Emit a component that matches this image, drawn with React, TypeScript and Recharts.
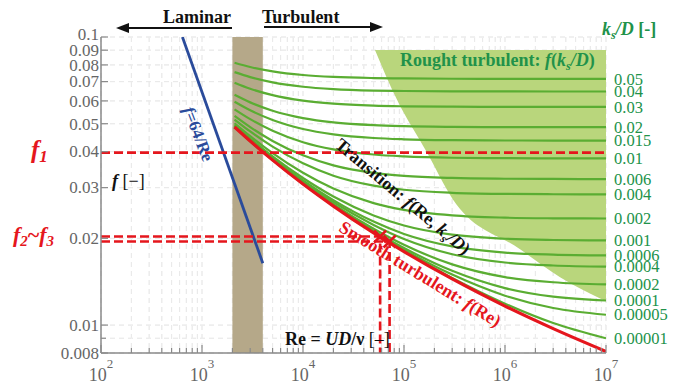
import React from 'react'
import { ComposedChart, Line, Area, Scatter, XAxis, YAxis, CartesianGrid } from 'recharts'

const SERIF = "'Liberation Serif', 'Times New Roman', serif"

// Reynolds numbers where the friction factor curves were read
const RE = [2100, 3000, 5000, 1e4, 2e4, 5e4, 1e5, 3e5, 1e6, 3e6, 1e7]

// smooth turbulent (red)
const SMOOTH_F = [0.0487, 0.04353, 0.03738, 0.03088, 0.02589, 0.02089, 0.01799, 0.01446, 0.01164, 0.00972, 0.0081]

// relative roughness curves (green), top to bottom
const KS_LABELS = ['0.05', '0.04', '0.03', '0.02', '0.015', '0.01', '0.006', '0.004', '0.002', '0.001', '0.0006', '0.0004', '0.0002', '0.0001', '0.00005', '0.00001']
const KS_F = [
  [0.0814, 0.07868, 0.07597, 0.0738, 0.07269, 0.07203, 0.0718, 0.07163, 0.07157, 0.07155, 0.07154],
  [0.0755, 0.07256, 0.06958, 0.06719, 0.06595, 0.06518, 0.06494, 0.06476, 0.06471, 0.06469, 0.06468],
  [0.0694, 0.06614, 0.06281, 0.0601, 0.05868, 0.05778, 0.05748, 0.05728, 0.0572, 0.05718, 0.05717],
  [0.063, 0.0593, 0.05549, 0.0523, 0.05052, 0.04941, 0.04903, 0.04877, 0.04867, 0.04865, 0.04863],
  [0.0596, 0.05567, 0.05152, 0.04794, 0.04593, 0.0446, 0.04415, 0.04384, 0.04373, 0.04371, 0.0437],
  [0.0561, 0.05187, 0.04726, 0.04313, 0.04071, 0.03909, 0.03851, 0.0381, 0.03797, 0.03792, 0.0379],
  [0.0532, 0.04866, 0.04358, 0.03883, 0.03584, 0.03374, 0.03295, 0.03241, 0.03221, 0.03215, 0.03213],
  [0.0517, 0.047, 0.04164, 0.03643, 0.03301, 0.03049, 0.0295, 0.02879, 0.02853, 0.02846, 0.02844],
  [0.0502, 0.04529, 0.03954, 0.0338, 0.02979, 0.02651, 0.0251, 0.02402, 0.0236, 0.02348, 0.02344],
  [0.04945, 0.04441, 0.0385, 0.03239, 0.02794, 0.02402, 0.02217, 0.0206, 0.01994, 0.01974, 0.01967],
  [0.04914, 0.04406, 0.03806, 0.0318, 0.02715, 0.02287, 0.02072, 0.01876, 0.01785, 0.01756, 0.01745],
  [0.049, 0.04386, 0.03784, 0.0315, 0.02674, 0.02226, 0.0199, 0.01762, 0.01649, 0.0161, 0.01596],
  [0.04884, 0.04373, 0.03763, 0.03119, 0.02631, 0.0216, 0.019, 0.01625, 0.01468, 0.01408, 0.01384],
  [0.04877, 0.04362, 0.03751, 0.03103, 0.02611, 0.02124, 0.01852, 0.01543, 0.01344, 0.01255, 0.01217],
  [0.04872, 0.04358, 0.03745, 0.03097, 0.026, 0.0211, 0.01826, 0.01497, 0.01265, 0.01146, 0.01086],
  [0.0487, 0.0435, 0.03741, 0.0309, 0.02591, 0.02094, 0.01806, 0.01457, 0.01187, 0.01017, 0.009],
]

// laminar f = 64/Re (blue)
const LAM_RE = [640, 4000]
const LAM_F = [0.1, 0.0164]

// transition band (brown)
const BAND_RE = [2000, 4000]

// rough turbulent zone (light green), lower boundary
const ROUGH_RE = [51600, 85300, 169000, 305000, 1.41e6, 3.51e6, 1e7]
const ROUGH_LO = [0.0902, 0.0605, 0.0397, 0.0273, 0.01833, 0.01466, 0.0121]
const ROUGH_TOP = 0.0902

// read-off points
const F1 = 0.0397
const F23 = [0.0203, 0.0195]
const F23_RE = [58000, 72000]

const Y_TICKS = [0.008, 0.009, 0.01, 0.02, 0.03, 0.04, 0.05, 0.06, 0.07, 0.08, 0.09, 0.1]
const X_TICKS: number[] = []
for (let d = 2; d < 7; d++) for (let m = 1; m < 10; m++) X_TICKS.push(m * Math.pow(10, d))
X_TICKS.push(1e7)

const END_F = KS_F.map((c) => c[c.length - 1])

const RED = '#e5161d'
const GREEN = '#5aad32'
const LABEL_GREEN = '#21924a'
const BLUE = '#2a4b9b'
const AXIS = '#8a8a8a'

const toSeries = (xs: number[], ys: number[]) => xs.map((re, i) => ({ re, f: ys[i] }))

function XTick(props: any) {
  const { x, y, payload } = props
  const v = payload.value
  const lg = Math.log10(v)
  const major = Math.abs(lg - Math.round(lg)) < 1e-6
  return (
    <g>
      <line x1={x} x2={x} y1={y} y2={y - (major ? 8 : 5)} stroke={AXIS} strokeWidth={1.2} />
      {major && (
        <text x={x} y={y + 28} textAnchor="middle" fill="#666" fontSize={18} fontFamily={SERIF}>
          <tspan>10</tspan>
          <tspan dy={-13} fontSize={13}>{Math.round(lg)}</tspan>
        </text>
      )}
    </g>
  )
}

function YTick(props: any) {
  const { x, y, payload } = props
  const v = payload.value
  const labeled = v !== 0.009
  return (
    <g>
      <line x1={x} x2={x + (labeled ? 7 : 5)} y1={y} y2={y} stroke={AXIS} strokeWidth={1.2} />
      {labeled && (
        <text x={x - 2} y={v === 0.1 ? y - 3 : y} dy="0.34em" textAnchor="end" fill="#666" fontSize={17} fontFamily={SERIF}>
          {String(v)}
        </text>
      )}
    </g>
  )
}

function KsTick(props: any) {
  const { x, y, payload } = props
  const label = KS_LABELS[END_F.indexOf(payload.value)]
  return (
    <text x={x + 8} y={y} dy="0.34em" fill={LABEL_GREEN} fontSize={16.5} fontFamily={SERIF}>
      {label}
    </text>
  )
}

function Cross(props: any) {
  const { cx, cy } = props
  const s = 6
  return (
    <g stroke={RED} strokeWidth={2.6}>
      <line x1={cx - s} y1={cy - s} x2={cx + s} y2={cy + s} />
      <line x1={cx - s} y1={cy + s} x2={cx + s} y2={cy - s} />
    </g>
  )
}

export default function App() {
  const roughData = ROUGH_RE.map((re, i) => ({ re, range: [ROUGH_LO[i], ROUGH_TOP] }))
  const bandData = BAND_RE.map((re) => ({ re, range: [Y_TICKS[0], Y_TICKS[Y_TICKS.length - 1]] }))
  const f1Data = [{ re: X_TICKS[0], f: F1 }, { re: 1e7, f: F1 }]
  const guideData = F23.map((f, i) => [
    { re: X_TICKS[0], f },
    { re: F23_RE[i], f },
    { re: F23_RE[i], f: Y_TICKS[0] },
  ])
  const crossData = toSeries(F23_RE, F23)

  return (
    <div style={{ position: 'absolute', left: 0, top: 0, width: 676, height: 385, background: '#fff', fontFamily: SERIF }}>
      <ComposedChart width={676} height={385} margin={{ top: 37, right: 0, bottom: 0, left: 0 }}>
        <CartesianGrid yAxisId="left" stroke="#d9d9d9" strokeDasharray="5 4" />
        <XAxis
          dataKey="re"
          type="number"
          scale="log"
          domain={[100, 1e7]}
          allowDataOverflow
          ticks={X_TICKS}
          interval={0}
          height={32}
          tickSize={0}
          tickMargin={0}
          tickLine={false}
          tick={<XTick />}
          axisLine={{ stroke: AXIS, strokeWidth: 1.5 }}
        />
        <YAxis
          yAxisId="left"
          type="number"
          scale="log"
          domain={[0.008, 0.1]}
          allowDataOverflow
          ticks={Y_TICKS}
          interval={0}
          width={101}
          tickSize={0}
          tickMargin={0}
          tickLine={false}
          tick={<YTick />}
          axisLine={{ stroke: AXIS, strokeWidth: 1.5 }}
        />
        <YAxis
          yAxisId="right"
          orientation="right"
          type="number"
          scale="log"
          domain={[0.008, 0.1]}
          allowDataOverflow
          ticks={END_F}
          interval={0}
          width={70}
          tickSize={0}
          tickMargin={0}
          tickLine={false}
          axisLine={false}
          tick={<KsTick />}
        />
        <Area
          yAxisId="left"
          data={roughData}
          dataKey="range"
          type="monotone"
          stroke="none"
          fill="#b9d67c"
          fillOpacity={1}
          isAnimationActive={false}
        />
        <Area
          yAxisId="left"
          data={bandData}
          dataKey="range"
          type="linear"
          stroke="none"
          fill="#b5a889"
          fillOpacity={1}
          isAnimationActive={false}
        />
        <CartesianGrid yAxisId="left" stroke="rgba(255,255,255,0.45)" strokeDasharray="5 4" />
        {KS_F.map((vals, k) => (
          <Line
            key={KS_LABELS[k]}
            yAxisId="left"
            data={toSeries(RE, vals)}
            dataKey="f"
            type="monotone"
            stroke={GREEN}
            strokeWidth={2.2}
            dot={false}
            isAnimationActive={false}
          />
        ))}
        <Line
          yAxisId="left"
          data={toSeries(RE, SMOOTH_F)}
          dataKey="f"
          type="monotone"
          stroke={RED}
          strokeWidth={3.2}
          dot={false}
          isAnimationActive={false}
        />
        <Line
          yAxisId="left"
          data={toSeries(LAM_RE, LAM_F)}
          dataKey="f"
          type="linear"
          stroke={BLUE}
          strokeWidth={2.8}
          dot={false}
          isAnimationActive={false}
        />
        <Line
          yAxisId="left"
          data={f1Data}
          dataKey="f"
          type="linear"
          stroke={RED}
          strokeWidth={2.6}
          strokeDasharray="9 4"
          dot={false}
          isAnimationActive={false}
        />
        {guideData.map((d, i) => (
          <Line
            key={'g' + i}
            yAxisId="left"
            data={d}
            dataKey="f"
            type="linear"
            stroke={RED}
            strokeWidth={2.6}
            strokeDasharray="9 4"
            dot={false}
            isAnimationActive={false}
          />
        ))}
        <Scatter yAxisId="left" data={crossData} dataKey="f" shape={<Cross />} isAnimationActive={false} />
      </ComposedChart>

      <svg width={676} height={385} style={{ position: 'absolute', left: 0, top: 0, pointerEvents: 'none' }} fontFamily={SERIF}>
        <text x={163} y={23} fontSize={18} fontWeight="bold" fill="#111">Laminar</text>
        <line x1={232} y1={28} x2={126} y2={28} stroke="#111" strokeWidth={2} />
        <polygon points="116,28 129,23 129,33" fill="#111" />
        <text x={262} y={23} fontSize={18} fontWeight="bold" fill="#111">Turbulent</text>
        <line x1={264} y1={27} x2={372} y2={27} stroke="#111" strokeWidth={2} />
        <polygon points="383,27 370,22 370,32" fill="#111" />

        <text x={602} y={35} fontSize={18} fill={LABEL_GREEN}>
          <tspan fontWeight="bold" fontStyle="italic">k</tspan>
          <tspan fontWeight="bold" fontStyle="italic" fontSize={12} dy={4}>s</tspan>
          <tspan fontWeight="bold" fontStyle="italic" dy={-4}>/D</tspan>
          <tspan fontWeight="bold"> [-]</tspan>
        </text>
        <text x={400} y={66} fontSize={18} fontWeight="bold" fill={LABEL_GREEN}>
          Rought turbulent: <tspan fontStyle="italic">f</tspan>(<tspan fontStyle="italic">k</tspan>
          <tspan fontStyle="italic" fontSize={12} dy={4}>s</tspan>
          <tspan fontStyle="italic" dy={-4}>/D</tspan>)
        </text>

        <text x={31} y={158} fontSize={25} fontWeight="bold" fontStyle="italic" fill={RED}>
          f<tspan fontSize={17} dy={4}>1</tspan>
        </text>
        <text x={13} y={242} fontSize={22} fontWeight="bold" fontStyle="italic" fill={RED}>
          f<tspan fontSize={15} dy={4}>2</tspan>
          <tspan dy={-4} fontStyle="normal">~</tspan>f<tspan fontSize={15} dy={4}>3</tspan>
        </text>

        <text x={112} y={187} fontSize={18} fill="#111">
          <tspan fontWeight="bold" fontStyle="italic">f</tspan>
          <tspan> [−]</tspan>
        </text>

        <text x={285} y={345} fontSize={18} fill="#111">
          <tspan fontWeight="bold">Re = </tspan>
          <tspan fontWeight="bold" fontStyle="italic">UD</tspan>
          <tspan fontWeight="bold">/ν</tspan>
          <tspan> [–]</tspan>
        </text>

        <text x={193} y={136} fontSize={17} fontWeight="bold" fill={BLUE} textAnchor="middle" transform="rotate(69 193 136)">
          <tspan fontStyle="italic">f</tspan>=64/Re
        </text>

        <text x={399} y={201} fontSize={18} fontWeight="bold" fill="#111" textAnchor="middle" transform="rotate(40 399 201)">
          Transition: <tspan fontStyle="italic">f</tspan>(Re, <tspan fontStyle="italic">k</tspan>
          <tspan fontStyle="italic" fontSize={12} dy={4}>s</tspan>
          <tspan fontStyle="italic" dy={-4}>/D</tspan>)
        </text>

        <text x={417} y={279} fontSize={18} fontWeight="bold" fill={RED} textAnchor="middle" transform="rotate(31.5 417 279)">
          Smooth turbulent: <tspan fontStyle="italic">f</tspan>(Re)
        </text>
      </svg>
    </div>
  )
}
